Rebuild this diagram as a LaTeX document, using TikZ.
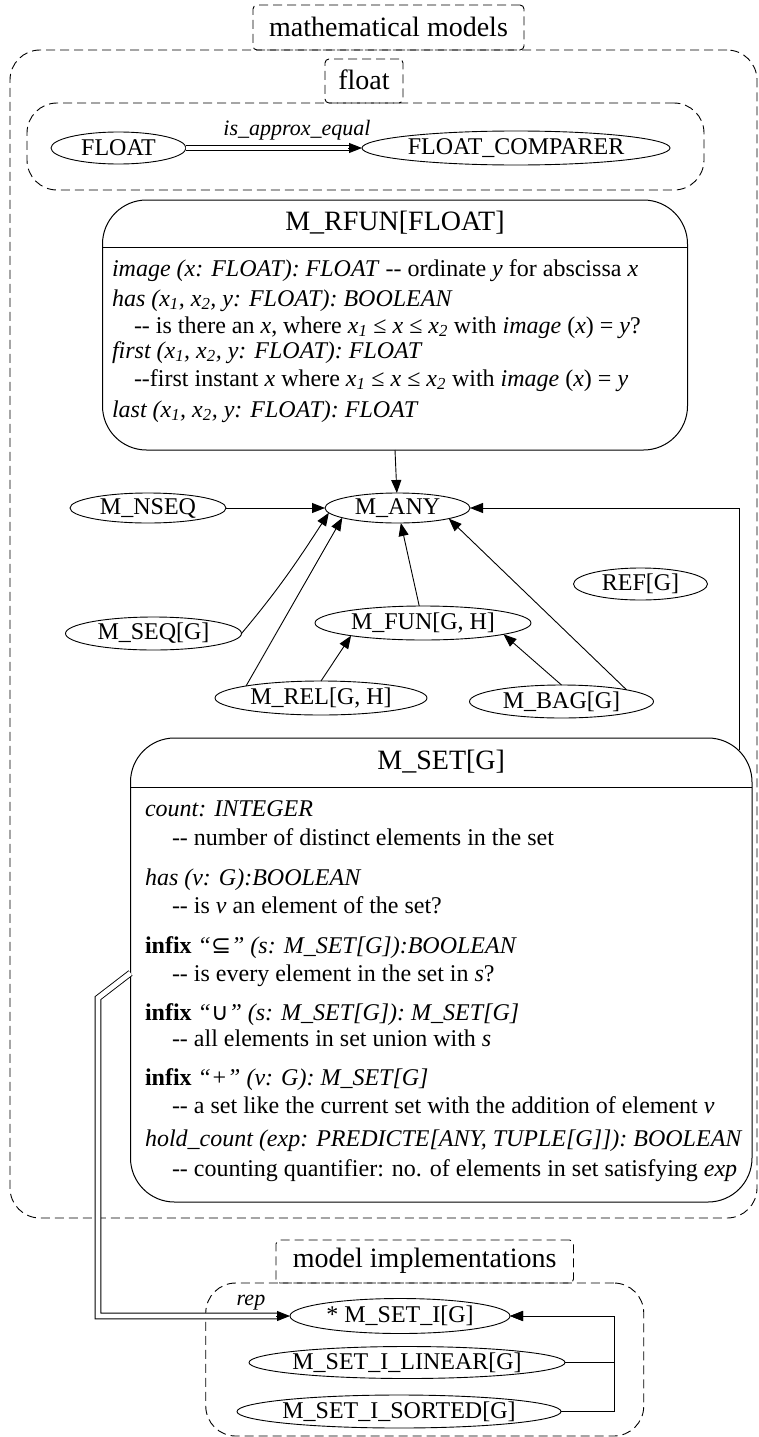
\documentclass[tikz,border=0pt]{standalone}
\usepackage{fontspec}
\setmainfont{Liberation Serif}
\newfontfamily\djv{DejaVu Sans}
\usetikzlibrary{arrows.meta,shapes.geometric}
\newcommand\ddash{-{}-}
\begin{document}
\begin{tikzpicture}[x=1pt,y=-1pt,
  every node/.style={inner sep=0pt, outer sep=0pt},
  ell/.style={draw, ellipse, line width=0.9pt, font=\fontsize{24}{28}\selectfont},
  arr/.style={line width=0.9pt, -{Triangle[length=13pt,width=10pt]}},
  dbl/.style={double, double distance=4.8pt, line width=0.9pt},
  clus/.style={draw, dash pattern=on 9pt off 5pt, line width=0.9pt, rounded corners=30pt},
  tab/.style={draw, dash pattern=on 9pt off 5pt, line width=0.9pt, rounded corners=4pt},
  labl/.style={font=\fontsize{28}{32}\selectfont},
  cls/.style={draw, line width=1pt, rounded corners=44pt},
  ttl/.style={font=\fontsize{28}{32}\selectfont},
  txt/.style={anchor=base west, font=\fontsize{24}{28}\selectfont},
  elab/.style={font=\fontsize{22}{26}\selectfont\itshape}
]
\useasboundingbox (0,0) rectangle (759,1437);

% clusters
\node[clus, minimum width=747, minimum height=1168] (mmc) at (383.5,634) {};
\node[clus, minimum width=677, minimum height=87] (flc) at (365.5,146.5) {};
\node[clus, minimum width=438, minimum height=153] (imc) at (424.75,1359.5) {};
\node[tab, minimum width=271, minimum height=45] (mmt) at (388.5,27.5) {};
\node[labl] (mmtx) at (388.5,27) {mathematical models};
\node[tab, minimum width=78, minimum height=44] (flt) at (364,81) {};
\node[labl] (fltx) at (364,80) {float};
\node[tab, minimum width=297.5, minimum height=43] (imt) at (424.75,1261.5) {};
\node[labl] (imtx) at (424.75,1261) {model implementations};

% float cluster
\node[ell, minimum width=135, minimum height=32] (float) at (118.5,148) {\makebox[0pt]{FLOAT}};
\node[ell, minimum width=308, minimum height=34] (fcomp) at (516,148) {\makebox[0pt]{FLOAT\_COMPARER}};
\draw[dbl, shorten >=12pt] (float) -- (fcomp);
\draw[arr] ([xshift=-14pt]fcomp.west) -- (fcomp.west);
\node[elab] (lapx) at (297,130) {is\_approx\_equal};

% M_RFUN box
\node[cls, minimum width=585, minimum height=250] (rfun) at (395,325) {};
\coordinate (rh) at (0,247);
\draw[line width=1pt] (rfun.west |- rh) -- (rfun.east |- rh);
\node[ttl] (rfunt) at (395,223) {M\_RFUN[FLOAT]};
\node[txt] (r1) at (112,276) {\textit{image (x: FLOAT): FLOAT} \ddash{} ordinate \textit{y} for abscissa \textit{x}};
\node[txt] (r2) at (112,306) {\textit{has (x\textsubscript{1}, x\textsubscript{2}, y: FLOAT): BOOLEAN}};
\node[txt] (r3) at (134,333) {\ddash{} is there an \textit{x}, where \textit{x}\textsubscript{\textit{1}} ≤ \textit{x} ≤ \textit{x}\textsubscript{\textit{2}} with \textit{image} (\textit{x}) = \textit{y}?};
\node[txt] (r4) at (112,358) {\textit{first (x\textsubscript{1}, x\textsubscript{2}, y: FLOAT): FLOAT}};
\node[txt] (r5) at (134,386) {\ddash first instant \textit{x} where \textit{x}\textsubscript{\textit{1}} ≤ \textit{x} ≤ \textit{x}\textsubscript{\textit{2}} with \textit{image} (\textit{x}) = \textit{y}};
\node[txt] (r6) at (112,417) {\textit{last (x\textsubscript{1}, x\textsubscript{2}, y: FLOAT): FLOAT}};

% middle graph
\node[ell, minimum width=145, minimum height=30] (many) at (397.5,508) {\makebox[0pt]{M\_ANY}};
\node[ell, minimum width=156, minimum height=30] (mnseq) at (148,508) {\makebox[0pt]{M\_NSEQ}};
\node[ell, minimum width=134, minimum height=32] (refg) at (640.5,584) {\makebox[0pt]{REF[G]}};
\node[ell, minimum width=176, minimum height=33] (mseq) at (153.5,633.5) {\makebox[0pt]{M\_SEQ[G]}};
\node[ell, minimum width=216, minimum height=34] (mfun) at (423,623) {\makebox[0pt]{M\_FUN[G, H]}};
\node[ell, minimum width=212, minimum height=34] (mrel) at (321,698) {\makebox[0pt]{M\_REL[G, H]}};
\node[ell, minimum width=184, minimum height=33] (mbag) at (561.5,701.5) {\makebox[0pt]{M\_BAG[G]}};

\draw[arr] (rfun.south) -- (many);
\draw[arr] (mnseq) -- (many);
\draw[arr] (mseq.east) to[out=50,in=237] (many.184);
\draw[arr] (mrel.north west) -- (many.190);
\draw[arr] (mfun) -- (many);
\draw[arr] (mrel.north) -- (mfun.190);
\draw[arr] (mbag.north) -- (mfun.-8);
\draw[arr] (mbag.north east) -- (many.south east);

% M_SET box
\node[cls, minimum width=621.5, minimum height=464] (mset) at (441.25,970) {};
\coordinate (sh) at (0,787);
\draw[line width=1pt] (mset.west |- sh) -- (mset.east |- sh);
\node[ttl] (msett) at (441.25,762) {M\_SET[G]};
\node[txt] (s1) at (145,816) {\textit{count: INTEGER}};
\node[txt] (s2) at (172,845) {\ddash{} number of distinct elements in the set};
\node[txt] (s3) at (145,885) {\textit{has (v: G):BOOLEAN}};
\node[txt] (s4) at (172,913) {\ddash{} is \textit{v} an element of the set?};
\node[txt] (s5) at (145,953) {\textbf{infix} \textit{“}{\djv ⊆}\textit{” (s: M\_SET[G]):BOOLEAN}};
\node[txt] (s6) at (172,981) {\ddash{} is every element in the set in \textit{s}?};
\node[txt] (s7) at (145,1020) {\textbf{infix} \textit{“}{\djv ∪}\textit{” (s: M\_SET[G]): M\_SET[G]}};
\node[txt] (s8) at (172,1046) {\ddash{} all elements in set union with \textit{s}};
\node[txt] (s9) at (145,1085) {\textbf{infix} \textit{“+” (v: G): M\_SET[G]}};
\node[txt] (s10) at (172,1113) {\ddash{} a set like the current set with the addition of element \textit{v}};
\node[txt] (s11) at (145,1146) {\textit{hold\_count (exp: PREDICTE[ANY, TUPLE[G]]): BOOLEAN}};
\node[txt] (s12) at (172,1176) {\ddash{} counting quantifier: no. of elements in set satisfying \textit{exp}};

\draw[arr] ([xshift=-13pt,yshift=-12pt]mset.north east) |- (many);

% implementations
\node[ell, minimum width=220, minimum height=35] (msi) at (400,1316) {\makebox[0pt]{* M\_SET\_I[G]}};
\node[ell, minimum width=316, minimum height=32] (msil) at (407,1362.5) {\makebox[0pt]{M\_SET\_I\_LINEAR[G]}};
\node[ell, minimum width=324, minimum height=33] (msis) at (399,1411.5) {\makebox[0pt]{M\_SET\_I\_SORTED[G]}};
\coordinate (ib) at (614,1316);
\draw[arr] (msil.east) -| (ib) -- (msi.east);
\draw[arr] (msis.east) -| (ib) -- (msi.east);

\coordinate (rb) at (98,998);
\draw[dbl, shorten >=12pt] ([yshift=-3pt]mset.west) -- (rb) |- (msi.west);
\draw[arr] ([xshift=-14pt]msi.west) -- (msi.west);
\node[elab] (lrep) at (251,1303) {rep};
\end{tikzpicture}
\end{document}
